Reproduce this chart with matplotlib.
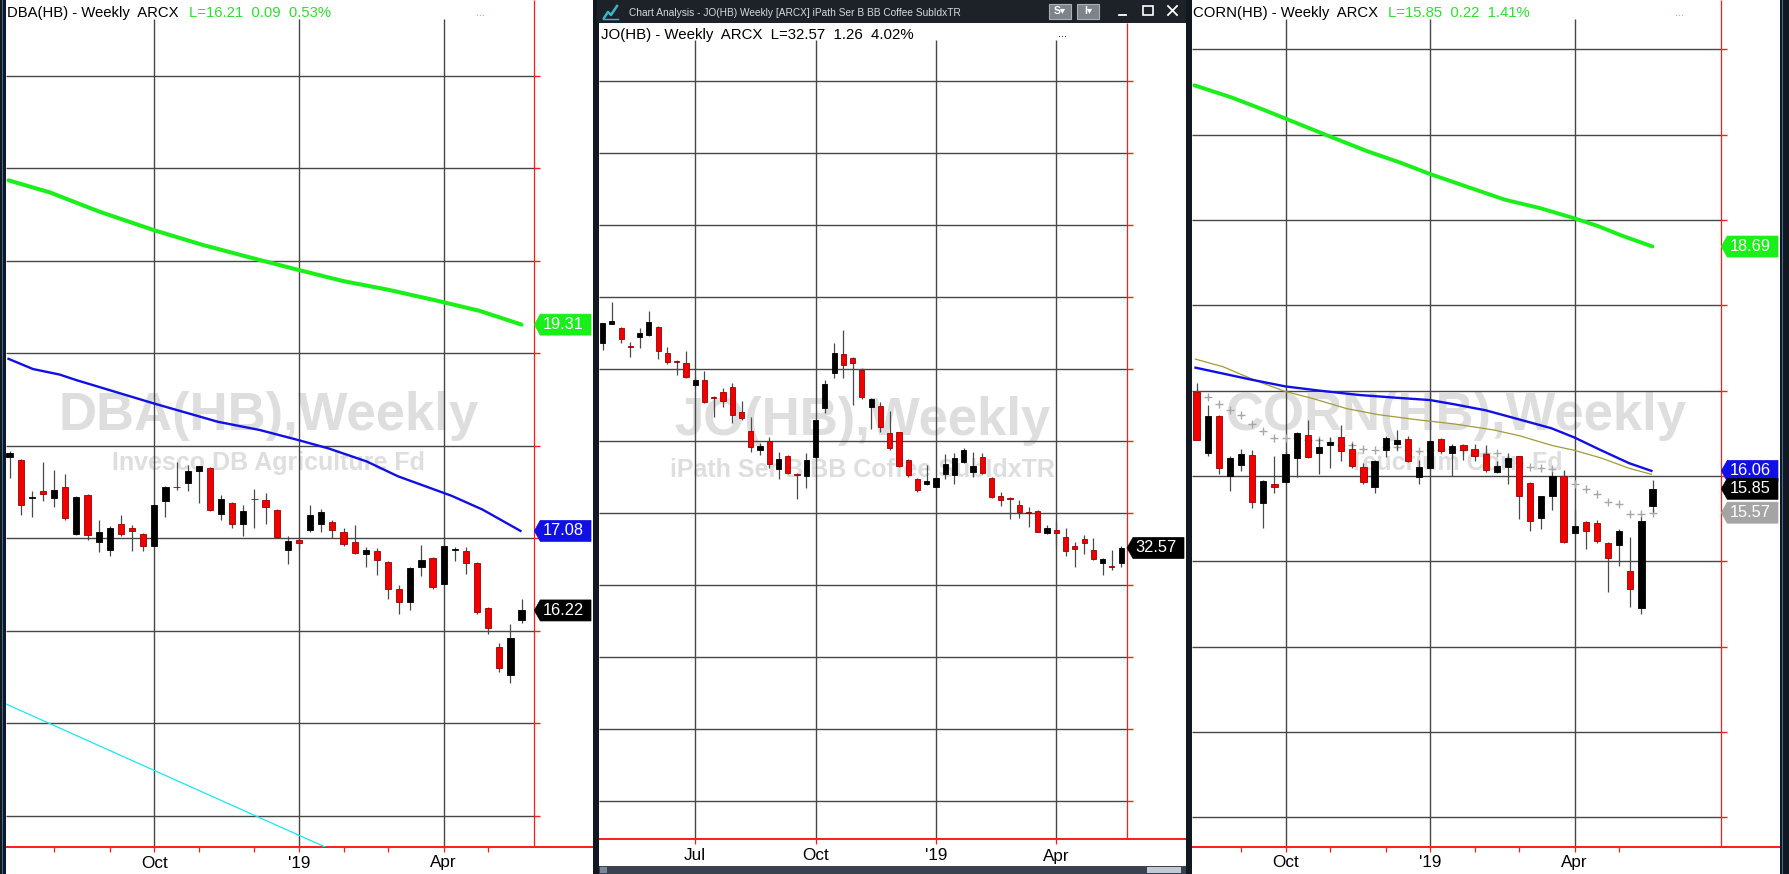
import matplotlib
matplotlib.use('Agg')
import matplotlib.pyplot as plt
import numpy as np
from matplotlib.patches import Rectangle, Polygon
from matplotlib.lines import Line2D

plt.rcParams['font.family'] = ['Liberation Sans', 'DejaVu Sans']

W, H = 1790, 874
FRAME = '#111820'
EDGE = '#3b6ea5'
GRID = '#474747'
RED = '#ff1a1a'
RED_BODY = '#f20000'
WICK = '#4a4a4a'
GREEN = '#19f019'
TITLE_GREEN = '#2ee02e'
BLUE = '#1010e6'
CYAN = '#19e6f0'
OLIVE = '#a39a3a'
CROSS = '#a8a8a8'
WMARK = '#dedede'

# ── DBA weekly candles ────────────────────────────────────────────
p1_open = [17.88, 17.85, 17.44, 17.51, 17.44, 17.55, 17.05, 17.47, 16.96, 16.87,
           17.16, 17.11, 17.05, 16.92, 17.40, 17.56, 17.60, 17.73, 17.76, 17.26,
           17.38, 17.15, 17.43, 17.41, 17.31, 16.87, 16.98, 17.09, 17.16, 17.18,
           17.07, 16.96, 16.83, 16.86, 16.74, 16.45, 16.31, 16.69, 16.79, 16.51,
           16.87, 16.86, 16.73, 16.25, 15.82, 15.52, 16.12]
p1_high = [17.94, 17.86, 17.51, 17.83, 17.74, 17.70, 17.46, 17.48, 17.20, 17.13,
           17.25, 17.14, 17.06, 17.37, 17.57, 17.82, 17.79, 17.78, 17.77, 17.47,
           17.39, 17.36, 17.53, 17.49, 17.32, 17.02, 16.99, 17.36, 17.32, 17.20,
           17.11, 17.14, 16.91, 16.89, 16.75, 16.50, 16.69, 16.93, 16.80, 16.93,
           16.91, 16.91, 16.74, 16.26, 15.87, 16.07, 16.34]
p1_low = [17.65, 17.25, 17.23, 17.40, 17.34, 17.20, 17.04, 16.98, 16.85, 16.81,
          17.03, 16.86, 16.86, 16.92, 17.23, 17.52, 17.51, 17.38, 17.30, 17.20,
          17.11, 17.03, 17.11, 17.16, 17.00, 16.72, 16.89, 17.07, 17.07, 17.00,
          16.92, 16.83, 16.69, 16.60, 16.34, 16.18, 16.23, 16.59, 16.45, 16.51,
          16.75, 16.61, 16.18, 15.97, 15.55, 15.44, 16.08]
p1_close = [17.92, 17.36, 17.45, 17.48, 17.52, 17.22, 17.45, 17.04, 17.07, 17.11,
            17.05, 17.08, 16.92, 17.36, 17.56, 17.55, 17.73, 17.78, 17.31, 17.43,
            17.16, 17.30, 17.42, 17.34, 17.01, 16.97, 16.95, 17.25, 17.28, 17.09,
            16.94, 16.84, 16.87, 16.77, 16.45, 16.31, 16.68, 16.77, 16.47, 16.92,
            16.88, 16.73, 16.20, 16.03, 15.60, 15.92, 16.22]
p1_green_x = [-0.1, 3.6, 8.1, 13, 17.4, 21.8, 26, 30, 33.9, 38, 42.2, 46]
p1_green = [20.87, 20.74, 20.53, 20.33, 20.17, 20.03, 19.90, 19.78, 19.69, 19.58, 19.46, 19.31]
p1_blue_x = [-0.1, 2.1, 4.5, 6, 12.9, 18.7, 22.5, 26, 28.7, 32.1, 34.9, 39.7, 42.5, 45.9]
p1_blue = [18.94, 18.83, 18.77, 18.71, 18.46, 18.26, 18.17, 18.06, 17.97, 17.83,
           17.67, 17.46, 17.31, 17.08]
p1_trend_x = [-0.35, 28.4]
p1_trend = [15.21, 13.66]

# ── JO weekly candles ─────────────────────────────────────────────
p2_open = [46.78, 48.13, 47.82, 46.60, 47.20, 47.36, 47.94, 46.09, 45.53, 45.44,
           43.87, 44.24, 43.08, 43.38, 43.77, 42.04, 40.72, 39.38, 40.02, 38.03,
           38.96, 37.69, 37.57, 38.87, 42.27, 44.70, 46.04, 45.79, 44.93, 42.38,
           42.43, 40.53, 40.60, 38.68, 37.36, 36.99, 36.78, 37.69, 37.64, 38.52,
           37.87, 38.87, 37.45, 36.18, 36.04, 35.53, 35.07, 35.16, 33.59, 33.82,
           33.31, 32.73, 33.17, 32.43, 31.50, 31.34, 31.55]
p2_high = [48.22, 49.63, 47.94, 46.90, 47.82, 49.05, 47.99, 46.50, 45.63, 46.27,
           44.47, 44.86, 43.13, 43.66, 44.00, 42.80, 41.64, 39.84, 40.30, 39.26,
           39.03, 37.75, 39.14, 41.50, 44.24, 46.83, 47.69, 45.81, 45.05, 42.96,
           42.73, 42.08, 40.65, 38.73, 37.41, 38.33, 37.48, 39.07, 39.14, 39.49,
           39.26, 39.19, 37.52, 36.44, 36.13, 35.90, 35.44, 35.21, 34.17, 34.40,
           33.94, 33.01, 33.47, 33.24, 31.85, 32.43, 32.71]
p2_low = [46.32, 48.10, 46.78, 45.86, 46.46, 47.29, 45.67, 45.35, 44.58, 44.40,
          43.82, 42.66, 41.69, 42.38, 41.23, 41.46, 39.26, 39.03, 38.10, 37.34,
          37.69, 35.95, 36.71, 38.80, 41.92, 44.35, 44.40, 42.50, 42.89, 40.81,
          40.65, 39.38, 38.22, 37.52, 36.48, 36.92, 36.71, 37.36, 37.01, 38.45,
          37.48, 37.71, 36.02, 35.49, 34.56, 34.63, 34.05, 33.66, 33.54, 32.78,
          32.01, 31.23, 32.15, 31.74, 30.69, 31.04, 31.23]
p2_close = [48.17, 48.33, 47.06, 46.55, 47.52, 48.26, 46.27, 45.51, 45.49, 44.47,
            44.24, 42.73, 43.01, 42.80, 41.81, 41.57, 39.61, 39.65, 38.38, 38.73,
            37.75, 37.62, 38.68, 41.46, 43.96, 46.13, 45.28, 45.44, 43.08, 42.89,
            41.00, 39.49, 38.29, 37.64, 36.60, 37.22, 37.41, 38.38, 38.80, 39.38,
            38.29, 37.80, 36.13, 35.90, 36.00, 35.05, 35.02, 33.70, 33.94, 33.59,
            32.38, 32.48, 32.89, 31.78, 31.78, 31.23, 32.57]

# ── CORN weekly candles ───────────────────────────────────────────
p3_open = [16.99, 16.27, 16.70, 16.00, 16.13, 16.25, 15.68, 15.91, 15.93, 16.21,
           16.48, 16.27, 16.36, 16.46, 16.32, 16.11, 15.87, 16.31, 16.37, 16.43,
           15.99, 16.09, 16.43, 16.27, 16.36, 16.32, 16.26, 16.05, 16.10, 16.23,
           15.92, 15.51, 15.77, 16.00, 15.33, 15.46, 15.45, 15.21, 15.19, 14.89,
           14.45, 15.65]
p3_high = [17.09, 16.83, 16.71, 16.23, 16.32, 16.31, 15.95, 16.23, 16.29, 16.52,
           16.66, 16.44, 16.46, 16.60, 16.39, 16.15, 16.19, 16.47, 16.54, 16.47,
           16.19, 16.42, 16.44, 16.38, 16.38, 16.38, 16.36, 16.17, 16.27, 16.23,
           15.93, 15.77, 16.05, 16.07, 15.60, 15.47, 15.48, 15.23, 15.38, 15.28,
           15.52, 15.95]
p3_low = [16.42, 16.23, 16.02, 15.82, 16.06, 15.63, 15.39, 15.80, 15.92, 15.99,
          16.21, 16.02, 16.09, 16.17, 16.09, 15.91, 15.80, 16.22, 16.31, 16.16,
          15.91, 16.07, 16.27, 16.00, 16.19, 16.17, 16.05, 16.03, 15.91, 15.50,
          15.35, 15.38, 15.60, 15.22, 15.32, 15.14, 15.21, 14.64, 14.94, 14.46,
          14.38, 15.58]
p3_close = [16.42, 16.70, 16.09, 16.21, 16.26, 15.70, 15.94, 15.87, 16.26, 16.50,
            16.22, 16.34, 16.40, 16.29, 16.12, 15.93, 16.18, 16.45, 16.42, 16.18,
            16.11, 16.41, 16.29, 16.35, 16.31, 16.24, 16.07, 16.12, 16.21, 15.76,
            15.47, 15.76, 16.00, 15.23, 15.41, 15.35, 15.24, 15.04, 15.36, 14.67,
            15.47, 15.85]
p3_cross = [16.97, 16.93, 16.84, 16.77, 16.71, 16.61, 16.53, 16.45, 16.44, 16.44,
            16.42, 16.42, 16.40, 16.36, 16.36, 16.32, 16.30, 16.34, 16.34, 16.30,
            16.29, 16.31, 16.30, 16.32, 16.30, 16.29, 16.27, 16.27, 16.19, 16.15,
            16.11, 16.09, 16.08, 16.00, 15.91, 15.85, 15.79, 15.70, 15.67, 15.55,
            15.55, 15.57]
p3_green_x = [-0.2, 3.1, 5.9, 8, 11.8, 15.3, 18.4, 21, 23.9, 27.7, 30.9, 34, 36.1, 38.2, 41]
p3_green = [20.58, 20.44, 20.30, 20.19, 19.99, 19.81, 19.67, 19.54, 19.41, 19.24,
            19.14, 19.02, 18.93, 18.82, 18.69]
p3_blue_x = [-0.1, 2.4, 4.9, 8, 11.1, 14.6, 17.7, 21, 23.2, 26, 29.1, 31.9, 34, 36.4, 38.9, 40.9]
p3_blue = [17.27, 17.20, 17.13, 17.05, 17.00, 16.95, 16.92, 16.89, 16.84, 16.77,
           16.66, 16.56, 16.45, 16.30, 16.15, 16.06]
p3_olive_x = [-0.1, 2.4, 4.2, 5.9, 8, 10.4, 13.5, 16.3, 19.8, 23.2, 26.7, 29.1, 31.9,
              34, 36.4, 38.9, 40.9]
p3_olive = [17.37, 17.28, 17.18, 17.09, 16.99, 16.91, 16.79, 16.72, 16.66, 16.61,
            16.54, 16.47, 16.36, 16.30, 16.21, 16.09, 16.02]

# axis labels
p1_major, p1_labels = [13, 26, 39], ['Oct', "'19", 'Apr']
p1_months = [4, 9, 13, 17, 22, 26, 30, 34, 39, 43]
p2_major, p2_labels = [10, 23, 36, 49], ['Jul', 'Oct', "'19", 'Apr']
p3_major, p3_labels = [8, 21, 34], ['Oct', "'19", 'Apr']
p3_months = [4, 8, 12, 17, 21, 25, 29, 34, 38]

# ── panel geometry (pixels of the 1790x874 canvas) ────────────────
P1 = dict(left=6, right=593, top=0, bottom=847.3, x0=9.6, dx=11.13,
          yref=538.3, pref=17.0, ppd=92.5, red=534.3, grid_top=19)
P2 = dict(left=599.3, right=1186, top=23, bottom=839.3, x0=602.6, dx=9.26,
          yref=585, pref=30.0, ppd=14.4, red=1127, grid_top=40)
P3 = dict(left=1192, right=1780, top=0, bottom=847.3, x0=1196.6, dx=11.12,
          yref=476, pref=16.0, ppd=85.3, red=1721.3, grid_top=19)

fig = plt.figure(figsize=(W / 100, H / 100), dpi=100)
fig.patch.set_facecolor(FRAME)


def fx(x):
    return x / W


def fy(y):
    return 1 - y / H


def rect(x0, y0, x1, y1, color, z=-10, ec='none', lw=0):
    fig.add_artist(Rectangle((fx(x0), fy(y1)), (x1 - x0) / W, (y1 - y0) / H,
                             transform=fig.transFigure, fc=color, ec=ec, lw=lw, zorder=z))


def fline(xs, ys, color, lw=1.2):
    fig.add_artist(Line2D([fx(v) for v in xs], [fy(v) for v in ys],
                          transform=fig.transFigure, color=color, lw=lw))


def xi(P, x):
    return (x - P['x0']) / P['dx']


def yp(P, y):
    return P['pref'] + (P['yref'] - y) / P['ppd']


def panel(P, o, h, l, c, levels, majors, labels, months, lab_y, wm, wm_sub, wm_x, wm_base, sub_base):
    ax = fig.add_axes([fx(P['left']), fy(P['bottom']),
                       (P['right'] - P['left']) / W, (P['bottom'] - P['top']) / H])
    x_lo, x_hi = xi(P, P['left']), xi(P, P['right'])
    y_lo, y_hi = yp(P, P['bottom']), yp(P, P['top'])
    ax.set_xlim(x_lo, x_hi)
    ax.set_ylim(y_lo, y_hi)
    ax.axis('off')
    red_i = xi(P, P['red'])

    # watermark
    ax.text(fx(wm_x), fy(wm_base), wm, transform=fig.transFigure, fontsize=38,
            fontweight='bold', color=WMARK, ha='center', va='baseline', zorder=0.5)
    ax.text(fx(wm_x), fy(sub_base), wm_sub, transform=fig.transFigure, fontsize=18,
            fontweight='bold', color=WMARK, ha='center', va='baseline', zorder=0.5)

    # grid + red price/time axes
    ax.hlines(levels, x_lo, red_i, color=GRID, lw=1.0, zorder=1)
    ax.hlines(levels, red_i, red_i + 6 / P['dx'], color=RED, lw=1.0, zorder=1)
    ax.vlines(majors, y_lo, yp(P, P['grid_top']), color=GRID, lw=1.0, zorder=1)
    ax.vlines(red_i, y_lo, y_hi, color=RED, lw=0.9, zorder=2, clip_on=False)
    ax.hlines(y_lo, x_lo, x_hi, color=RED, lw=1.4, zorder=2, clip_on=False)
    ax.vlines(months, yp(P, P['bottom'] + 5), y_lo, color=RED, lw=0.9, clip_on=False)
    for m, s in zip(majors, labels):
        ax.text(m, yp(P, lab_y), s, ha='center', va='center', fontsize=12.3,
                color='black', clip_on=False)

    # candles
    o, h, l, c = map(np.asarray, (o, h, l, c))
    x = np.arange(len(o))
    up = c >= o
    ax.vlines(x, l, h, color=WICK, lw=0.9, zorder=4)
    ax.bar(x, np.abs(c - o), bottom=np.minimum(o, c), width=0.56,
           color=['black' if u else RED_BODY for u in up],
           edgecolor=['black' if u else '#9a0000' for u in up], lw=0.6, zorder=5)
    return ax


def tag(ax, P, price, s, bg, fg='white'):
    yc = P['yref'] - (price - P['pref']) * P['ppd']
    tip, rgt = P['red'], P['right'] - 2
    pts = [(tip, yc), (tip + 6, yc - 10.5), (rgt, yc - 10.5), (rgt, yc + 10.5), (tip + 6, yc + 10.5)]
    ax.add_patch(Polygon([(xi(P, a), yp(P, b)) for a, b in pts], closed=True,
                         fc=bg, ec=bg, lw=0.5, zorder=8, clip_on=False))
    ax.text(xi(P, tip + 8), price, s, color=fg, fontsize=11.8, ha='left', va='center',
            zorder=9, clip_on=False)


# ── frame and backgrounds ─────────────────────────────────────────
rect(6, 0, 593, 874, 'white')
rect(599.3, 23, 1186, 866, 'white')
rect(1192, 0, 1780, 874, 'white')
rect(2, 0, 3.5, 874, EDGE)
rect(1782, 0, 1783.5, 874, EDGE)

# window title bar of the middle chart
rect(597, 0, 1186, 23, '#1d2229', z=-9)
fline([604, 608, 611, 617], [18, 12, 15, 6], '#38b6c8', lw=1.8)
fline([603, 618], [19, 19], '#38b6c8', lw=1.0)
fig.text(fx(629), fy(16), 'Chart Analysis - JO(HB) Weekly [ARCX] iPath Ser B BB Coffee SubIdxTR',
         color='#d5dae0', fontsize=7.3, va='baseline', ha='left')
for bx, bl in [(1049, 'S'), (1077, 'I')]:
    rect(bx, 4, bx + 22, 19, '#7c838b', z=-8, ec='#aab0b6', lw=0.8)
    fig.text(fx(bx + 11), fy(11.5), bl + '\u25be', color='white', fontsize=7.5,
             fontweight='bold', ha='center', va='center')
fline([1119, 1126], [15, 15], 'white', lw=1.3)
rect(1143, 6, 1153, 15, 'none', z=3, ec='white', lw=1.2)
fline([1168, 1177], [6, 15], 'white', lw=1.3)
fline([1168, 1177], [15, 6], 'white', lw=1.3)

# scrollbar under the middle chart
rect(599, 866, 1186, 874, '#3a4150', z=-9)
rect(600, 867, 607, 873, '#7a8796', z=-8)
rect(1147, 867, 1181, 873, '#c3cad2', z=-8)

# ── DBA ───────────────────────────────────────────────────────────
ax1 = panel(P1, p1_open, p1_high, p1_low, p1_close, np.arange(14, 23), p1_major, p1_labels,
            p1_months, 863, 'DBA(HB),Weekly', 'Invesco DB Agriculture Fd', 269, 430, 470)
ax1.plot(p1_green_x, p1_green, color=GREEN, lw=2.9, zorder=3, solid_capstyle='round')
ax1.plot(p1_blue_x, p1_blue, color=BLUE, lw=1.7, zorder=3)
ax1.plot(p1_trend_x, p1_trend, color=CYAN, lw=0.9, zorder=3)
tag(ax1, P1, 19.31, '19.31', GREEN)
tag(ax1, P1, 17.08, '17.08', BLUE)
tag(ax1, P1, 16.22, '16.22', 'black')
fig.text(fx(7), fy(17), 'DBA(HB) - Weekly  ARCX', fontsize=10.7, color='black', va='baseline')
fig.text(fx(189), fy(17), 'L=16.21  0.09  0.53%', fontsize=10.7, color=TITLE_GREEN, va='baseline')
fig.text(fx(476), fy(16), '...', fontsize=8, color=TITLE_GREEN, va='baseline')

# ── JO ────────────────────────────────────────────────────────────
ax2 = panel(P2, p2_open, p2_high, p2_low, p2_close, np.arange(15, 70, 5), p2_major, p2_labels,
            p2_major, 856, 'JO(HB),Weekly', 'iPath Ser B BB Coffee SubIdxTR', 862, 435, 477)
tag(ax2, P2, 32.57, '32.57', 'black')
fig.text(fx(601), fy(38.5), 'JO(HB) - Weekly  ARCX  L=32.57  1.26  4.02%', fontsize=10.8,
         color='black', va='baseline')
fig.text(fx(1058), fy(37), '...', fontsize=8, color='black', va='baseline')

# ── CORN ──────────────────────────────────────────────────────────
ax3 = panel(P3, p3_open, p3_high, p3_low, p3_close, np.arange(12, 22), p3_major, p3_labels,
            p3_months, 863, 'CORN(HB),Weekly', 'Teucrium Corn Fd', 1456, 430, 470)
ax3.plot(p3_green_x, p3_green, color=GREEN, lw=2.8, zorder=3, solid_capstyle='round')
ax3.plot(p3_olive_x, p3_olive, color=OLIVE, lw=0.9, zorder=3)
ax3.plot(p3_blue_x, p3_blue, color=BLUE, lw=1.7, zorder=3)
ax3.plot(np.arange(len(p3_cross)), p3_cross, ls='none', marker='+', ms=6, mew=1.0,
         color=CROSS, zorder=3.5)
tag(ax3, P3, 18.69, '18.69', GREEN)
tag(ax3, P3, 16.06, '16.06', BLUE)
tag(ax3, P3, 15.85, '15.85', 'black')
tag(ax3, P3, 15.57, '15.57', '#a4a4a4')
fig.text(fx(1193.5), fy(17), 'CORN(HB) - Weekly  ARCX', fontsize=10.7, color='black', va='baseline')
fig.text(fx(1388), fy(17), 'L=15.85  0.22  1.41%', fontsize=10.7, color=TITLE_GREEN, va='baseline')
fig.text(fx(1675), fy(16), '...', fontsize=8, color=TITLE_GREEN, va='baseline')

fig.savefig('out.png', dpi=100, facecolor=FRAME)
